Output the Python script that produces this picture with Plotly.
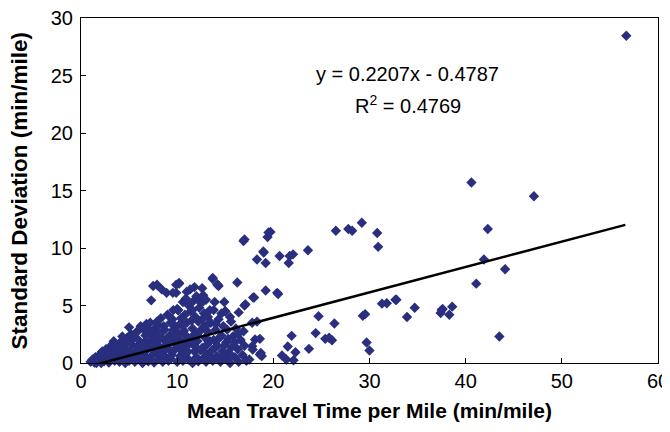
import plotly.graph_objects as go

# Mean travel time per mile (x) and standard deviation (y)
mean_tt = [
    1.0, 1.2, 1.4, 1.5, 1.8, 1.9, 2.1, 2.2, 2.0,
    2.4, 2.5, 2.6, 2.7, 2.9, 3.0, 3.1, 3.2, 3.3,
    3.5, 3.6, 3.7, 3.8, 3.6, 4.0, 4.1, 4.2, 4.3, 4.0, 4.4,
    4.6, 4.7, 4.8, 4.5, 4.9, 4.6, 5.0, 5.1, 5.2, 5.0, 5.3, 5.4, 5.2,
    5.6, 5.7, 5.8, 5.6, 5.9, 6.0, 6.1, 6.2, 6.0,
    6.4, 6.5, 6.6, 6.7, 6.5, 6.8, 6.9, 6.8,
    7.0, 7.1, 7.2, 7.2, 7.3, 7.3, 7.5, 7.4, 7.5,
    7.6, 7.7, 7.8, 7.9, 7.9, 8.0, 8.1, 8.2, 8.0,
    8.4, 8.5, 8.5, 8.6, 8.7, 8.8, 8.6, 8.9, 8.9,
    9.1, 9.2, 9.3, 9.2, 9.4, 9.55, 9.5, 9.6, 9.5,
    9.9, 9.9, 10.0, 10.0, 10.1, 10.2, 10.0, 10.1, 10.2, 10.3, 10.4, 10.4, 10.3,
    10.6, 10.7, 10.8, 10.7, 10.9, 11.0, 11.0, 11.1, 11.2, 11.2, 11.35, 11.3, 11.4,
    11.6, 11.6, 11.7, 11.8, 11.8, 11.9, 12.0, 12.0, 12.1, 12.2, 12.3, 12.2, 12.4,
    12.5, 12.6, 12.7, 12.7, 12.8, 12.8, 12.9, 13.0, 13.0, 13.1, 13.2, 13.2, 13.3,
    13.5, 13.6, 13.7, 13.7, 13.8, 13.8, 13.9, 14.0, 14.1, 14.2, 14.3, 14.2, 14.3,
    14.5, 14.6, 14.6, 14.7, 14.8, 15.0, 15.0, 15.1, 15.2, 15.3,
    15.5, 15.6, 15.7, 15.8, 16.0, 16.1, 16.25, 16.3, 16.4,
    16.6, 16.8, 16.9, 17.0, 17.1, 17.0, 17.2,
    17.85, 17.9, 18.0, 18.1, 18.7, 18.6, 18.8, 19.2, 17.5, 18.3, 17.8, 17.8, 18.6,
    13.7, 10.2, 14.2, 10.1, 15.0,
    16.9, 17.0, 19.5, 19.4, 18.96, 18.3, 19.2, 19.0, 19.7, 20.4, 20.5, 20.65,
    21.7, 22.05, 21.6, 23.6, 26.5, 27.8, 28.2, 29.2, 30.8, 30.9,
    20.9, 21.35, 22.1, 21.5, 21.9, 22.3, 23.7, 24.4, 24.7, 26.35,
    25.4, 25.8, 26.1, 29.7, 30.0, 29.3, 29.55, 31.3, 31.8, 32.7,
    32.8, 33.9, 34.7, 37.5, 37.4, 38.3, 38.6, 37.6,
    40.6, 41.1, 41.9, 42.3, 43.5, 44.1, 47.1, 56.7,
    5.3, 5.9, 6.3, 6.7, 7.0, 7.6, 7.8, 8.3, 8.3, 8.8, 9.0, 9.3, 9.7, 9.8, 9.8,
    10.5, 10.6, 10.9, 11.1, 11.5, 11.5, 11.9, 12.1, 12.4, 12.6, 12.9, 13.1,
    13.4, 13.4, 13.9, 14.0, 14.4, 14.8, 14.9, 15.3, 15.6, 16.0, 16.3,
    10.6, 11.6, 12.3, 10.9, 11.8, 12.6, 9.6, 9.0, 8.3, 7.9, 5.7, 4.3, 3.4,
    3.0, 2.3, 1.6, 15.5, 14.9, 16.4,
]
std_dev = [
    0.1, 0.3, 0.05, 0.5, 0.2, 0.7, 0.0, 1.0, 0.45,
    0.15, 0.6, 1.2, 0.35, 0.05, 0.8, 1.5, 0.4, 1.1,
    0.2, 0.9, 1.6, 0.5, 1.3, 0.1, 0.7, 1.9, 1.2, 1.5, 0.35,
    0.0, 0.9, 2.2, 1.7, 0.5, 1.3, 0.2, 1.0, 2.5, 3.1, 1.6, 0.6, 2.0,
    0.1, 0.8, 1.4, 2.3, 2.8, 0.4, 1.9, 3.2, 1.1,
    0.0, 0.7, 1.5, 2.4, 2.9, 0.3, 1.2, 3.4,
    0.15, 1.8, 2.6, 3.5, 0.6, 5.45, 6.7, 1.3, 2.2,
    0.05, 3.0, 0.9, 6.8, 1.9, 2.6, 0.35, 1.4, 3.3,
    6.4, 0.1, 2.1, 1.0, 2.9, 0.5, 3.2, 6.1, 1.6,
    0.2, 2.4, 3.5, 1.2, 0.7, 6.1, 1.9, 2.9, 3.8,
    6.8, 6.1, 4.7, 0.1, 4.6, 6.9, 1.5, 2.5, 3.3, 0.6, 1.1, 3.9, 2.0,
    0.2, 2.8, 4.2, 1.4, 0.8, 6.2, 3.5, 2.2, 5.0, 0.3, 6.4, 1.7, 4.5,
    0.0, 3.0, 5.4, 1.0, 2.5, 4.0, 0.5, 5.8, 1.9, 3.6, 4.8, 0.15, 2.8,
    5.2, 1.3, 5.9, 0.4, 3.2, 4.3, 2.2, 0.1, 5.5, 1.6, 4.0, 2.7, 0.7,
    3.5, 1.1, 7.3, 0.2, 4.6, 2.0, 5.3, 2.9, 0.6, 6.8, 6.7, 1.5, 3.8,
    0.1, 4.3, 2.4, 1.0, 3.2, 4.5, 0.4, 1.8, 2.9, 0.9,
    0.0, 3.6, 1.4, 2.3, 0.5, 3.0, 7.0, 1.2, 0.1,
    2.0, 0.7, 2.76, 5.0, 5.1, 1.5, 0.2,
    1.17, 5.7, 5.7, 2.04, 0.88, 2.1, 0.6, 6.3, 0.3, 3.6, 3.5, 1.46, 0.74,
    7.4, 6.96, 6.8, 4.6, 4.5,
    10.6, 10.75, 11.35, 10.95, 9.7, 9.0, 8.7, 9.6, 11.4, 6.1, 6.0, 9.3,
    9.3, 9.45, 8.7, 9.8, 11.5, 11.65, 11.5, 12.2, 11.3, 10.1,
    0.65, 0.3, 0.24, 1.43, 2.36, 0.94, 1.23, 2.6, 4.06, 3.43,
    2.1, 2.2, 1.98, 1.78, 1.09, 4.1, 4.25, 5.16, 5.2, 5.5,
    5.5, 4.0, 4.8, 4.6, 4.35, 4.2, 4.9, 4.7,
    15.7, 6.9, 9.0, 11.65, 2.3, 8.15, 14.5, 28.45,
    0.35, 1.15, 0.55, 1.9, 2.9, 1.55, 2.3, 0.75, 2.6, 1.25, 2.1, 0.4, 1.1, 2.3, 3.2,
    1.7, 3.3, 2.4, 1.0, 2.0, 3.7, 1.4, 2.4, 1.1, 3.8, 0.9, 3.3,
    1.9, 4.6, 1.3, 3.4, 2.2, 0.6, 1.5, 2.1, 0.7, 1.8, 2.5,
    5.3, 4.6, 5.5, 5.6, 6.6, 6.5, 4.6, 4.2, 3.9, 3.6, 2.6, 2.3, 1.9,
    0.3, 0.6, 0.0, 4.0, 5.3, 4.4,
]

# Linear trend (Excel): y = 0.2207x - 0.4787
slope = 0.2207
intercept = -0.4787
trend_x = [1.1, 56.6]
trend_y = [slope * v + intercept for v in trend_x]

x_ticks = [0, 10, 20, 30, 40, 50, 60]
y_ticks = [0, 5, 10, 15, 20, 25, 30]

FONT = "Liberation Sans, Arial, sans-serif"
NAVY = "#2A2E7E"

fig = go.Figure()
fig.add_trace(go.Scatter(
    x=mean_tt, y=std_dev, mode="markers",
    marker=dict(symbol="diamond", size=8, color=NAVY, line=dict(width=0)),
    cliponaxis=False, showlegend=False,
))
fig.add_trace(go.Scatter(
    x=trend_x, y=trend_y, mode="lines",
    line=dict(color="black", width=2.5), showlegend=False,
))

fig.add_annotation(x=34.0, y=25.1, text="y = 0.2207x - 0.4787", showarrow=False,
                   font=dict(family=FONT, size=20, color="black"), xanchor="center", yanchor="middle")
fig.add_annotation(x=34.0, y=22.5, text="R<sup>2</sup> = 0.4769", showarrow=False,
                   font=dict(family=FONT, size=20, color="black"), xanchor="center", yanchor="middle")

# Axis titles
fig.add_annotation(xref="paper", yref="paper", x=0.5, y=0, yshift=-47,
                   text="<b>Mean Travel Time per Mile (min/mile)</b>", showarrow=False,
                   font=dict(family=FONT, size=21, color="black"), xanchor="center", yanchor="middle")
fig.add_annotation(xref="paper", yref="paper", x=0, y=0.5, xshift=-62,
                   text="<b>Standard Deviation (min/mile)</b>", showarrow=False, textangle=-90,
                   font=dict(family=FONT, size=22.5, color="black"), xanchor="center", yanchor="middle")

# The page adds an 8px body margin, so the figure is sized to fit the window after that offset
fig.update_layout(
    width=662, height=424,
    margin=dict(l=73, r=12, t=10, b=68.5),
    paper_bgcolor="white", plot_bgcolor="white",
    font=dict(family=FONT, size=20, color="black"),
    xaxis=dict(
        range=[0, 60], tickvals=x_ticks, ticktext=[str(v) for v in x_ticks],
        ticks="inside", ticklen=5, tickcolor="black", tickwidth=1,
        showline=True, linecolor="black", linewidth=1, mirror=True,
        showgrid=False, zeroline=False, automargin=False,
        tickfont=dict(family=FONT, size=20), ticklabeloverflow="allow",
    ),
    yaxis=dict(
        range=[0, 30], tickvals=y_ticks, ticktext=[str(v) for v in y_ticks],
        ticks="inside", ticklen=5, tickcolor="black", tickwidth=1,
        showline=True, linecolor="black", linewidth=1, mirror=True,
        showgrid=False, zeroline=False, automargin=False,
        tickfont=dict(family=FONT, size=20), ticklabelstandoff=3,
        ticklabeloverflow="allow",
    ),
)

fig.write_html("out.html")
